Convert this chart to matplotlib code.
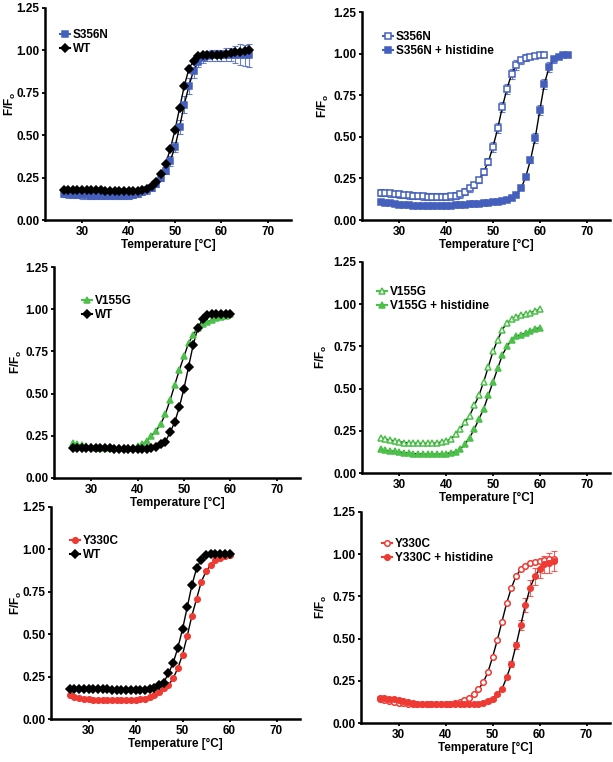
import matplotlib
matplotlib.use("Agg")
import matplotlib.pyplot as plt
import numpy as np

plt.rcParams['font.family'] = ['Liberation Sans', 'DejaVu Sans']
plt.rcParams['font.weight'] = 'bold'
plt.rcParams['mathtext.fontset'] = 'custom'
plt.rcParams['mathtext.rm'] = 'Liberation Sans:bold'
plt.rcParams['mathtext.default'] = 'rm'

BLUE = '#4560BC'
GREEN = '#4CC04A'
RED = '#EE3A33'

# temperatures (°C)
t_26_66 = list(range(26, 67))
t_26_61 = list(range(26, 62))
t_26_60 = list(range(26, 61))
t_26_63 = list(range(26, 64))

# WT, 26-66 (panel 1)
wt_long = [0.175, 0.175, 0.175, 0.175, 0.175, 0.175, 0.175, 0.175, 0.175, 0.173,
           0.172, 0.171, 0.170, 0.170, 0.170, 0.171, 0.173, 0.177, 0.185, 0.20,
           0.225, 0.27, 0.33, 0.42, 0.53, 0.66, 0.79, 0.89, 0.94, 0.965,
           0.97, 0.97, 0.97, 0.97, 0.975, 0.98, 0.985, 0.99, 0.993, 0.996, 1.00]
# S356N, 26-66
s356n = [0.155, 0.152, 0.150, 0.148, 0.146, 0.145, 0.144, 0.143, 0.142, 0.141,
         0.141, 0.141, 0.141, 0.142, 0.144, 0.148, 0.155, 0.165, 0.175, 0.19,
         0.215, 0.25, 0.29, 0.35, 0.43, 0.55, 0.68, 0.79, 0.88, 0.93,
         0.955, 0.965, 0.97, 0.97, 0.97, 0.975, 0.975, 0.975, 0.975, 0.97, 0.97]
s356n_err = [0.02, 0.02, 0.02, 0.02, 0.02, 0.02, 0.02, 0.02, 0.02, 0.02,
             0.02, 0.02, 0.02, 0.02, 0.02, 0.02, 0.02, 0.02, 0.02, 0.02,
             0.02, 0.02, 0.02, 0.03, 0.03, 0.04, 0.05, 0.05, 0.04, 0.03,
             0.03, 0.03, 0.03, 0.03, 0.03, 0.04, 0.04, 0.05, 0.06, 0.06, 0.07]

# panel 2: S356N (26-61) and S356N + histidine (26-66)
s356n_b = [0.165, 0.163, 0.160, 0.157, 0.154, 0.151, 0.148, 0.146, 0.144, 0.142,
           0.141, 0.140, 0.140, 0.140, 0.141, 0.143, 0.147, 0.155, 0.17, 0.19,
           0.21, 0.24, 0.29, 0.35, 0.44, 0.55, 0.68, 0.79, 0.88, 0.93,
           0.96, 0.975, 0.982, 0.987, 0.99, 0.99]
s356n_b_err = [0.02] * 22 + [0.02, 0.02, 0.03, 0.03, 0.03, 0.03, 0.03, 0.03,
                             0.02, 0.02, 0.01, 0.01, 0.01, 0.01]
s356n_his = [0.110, 0.105, 0.100, 0.096, 0.093, 0.090, 0.088, 0.087, 0.086, 0.085,
             0.085, 0.085, 0.085, 0.085, 0.086, 0.087, 0.088, 0.090, 0.092, 0.094,
             0.096, 0.098, 0.100, 0.103, 0.106, 0.110, 0.115, 0.122, 0.132, 0.15,
             0.19, 0.26, 0.36, 0.49, 0.66, 0.82, 0.92, 0.965, 0.98, 0.99, 0.99]
s356n_his_err = [0.01] * 31 + [0.01, 0.02, 0.03, 0.03, 0.03, 0.03, 0.02, 0.01, 0.01, 0.01]

# WT, 26-60 (panels 3 and 5)
wt = [0.175, 0.175, 0.175, 0.175, 0.175, 0.175, 0.175, 0.175, 0.175, 0.173,
      0.172, 0.171, 0.170, 0.170, 0.170, 0.171, 0.173, 0.177, 0.185, 0.20,
      0.215, 0.27, 0.33, 0.42, 0.53, 0.66, 0.79, 0.89, 0.94, 0.965,
      0.97, 0.97, 0.97, 0.97, 0.97]
# V155G, 26-60
v155g = [0.21, 0.20, 0.195, 0.19, 0.185, 0.18, 0.177, 0.175, 0.175, 0.175,
         0.175, 0.175, 0.175, 0.18, 0.19, 0.20, 0.22, 0.25, 0.28, 0.32,
         0.38, 0.46, 0.55, 0.64, 0.72, 0.80, 0.85, 0.89, 0.915, 0.925,
         0.935, 0.945, 0.955, 0.96, 0.97]
# panel 4
v155g_b = [0.21, 0.20, 0.195, 0.19, 0.185, 0.18, 0.178, 0.176, 0.175, 0.175,
           0.175, 0.175, 0.178, 0.183, 0.19, 0.20, 0.23, 0.26, 0.30, 0.34,
           0.40, 0.46, 0.54, 0.63, 0.72, 0.79, 0.85, 0.89, 0.91, 0.925,
           0.935, 0.94, 0.95, 0.96, 0.97]
v155g_his = [0.14, 0.135, 0.13, 0.128, 0.125, 0.12, 0.117, 0.115, 0.113, 0.112,
             0.111, 0.111, 0.111, 0.112, 0.115, 0.12, 0.125, 0.14, 0.17, 0.21,
             0.26, 0.32, 0.38, 0.46, 0.54, 0.62, 0.70, 0.75, 0.79, 0.81,
             0.82, 0.83, 0.84, 0.855, 0.86]

# Y330C, 26-60 (panel 5)
y330c = [0.14, 0.13, 0.125, 0.12, 0.115, 0.112, 0.11, 0.11, 0.11, 0.11,
         0.11, 0.11, 0.11, 0.11, 0.11, 0.115, 0.12, 0.13, 0.14, 0.16,
         0.18, 0.20, 0.24, 0.30, 0.38, 0.49, 0.61, 0.71, 0.81, 0.87,
         0.91, 0.935, 0.95, 0.96, 0.965]
# panel 6: Y330C (26-63) and Y330C + histidine (26-63)
y330c_b = [0.14, 0.135, 0.13, 0.125, 0.12, 0.117, 0.114, 0.112, 0.11, 0.11,
           0.11, 0.11, 0.11, 0.11, 0.11, 0.115, 0.12, 0.125, 0.135, 0.15,
           0.17, 0.20, 0.24, 0.30, 0.39, 0.49, 0.60, 0.71, 0.80, 0.87,
           0.91, 0.93, 0.945, 0.955, 0.96, 0.965, 0.97, 0.97]
y330c_his = [0.15, 0.15, 0.145, 0.14, 0.135, 0.13, 0.122, 0.117, 0.113, 0.11,
             0.11, 0.11, 0.11, 0.11, 0.11, 0.11, 0.11, 0.11, 0.11, 0.11,
             0.11, 0.115, 0.12, 0.13, 0.145, 0.17, 0.20, 0.27, 0.35, 0.46,
             0.58, 0.70, 0.80, 0.87, 0.91, 0.94, 0.95, 0.96]
y330c_his_err = [0.01] * 27 + [0.01, 0.02, 0.02, 0.03, 0.04, 0.05, 0.05, 0.05, 0.05, 0.06, 0.06]

W, H = 613, 762
FS = 8.5
fig = plt.figure(figsize=(W / 100, H / 100), dpi=100)

# axes boxes in pixels: left, top, width, bottom
boxes = [(45, 8, 246, 220), (362, 12, 248, 220),
         (54, 267, 246, 478), (362, 262, 248, 473),
         (51, 507, 249, 719), (361, 512, 249, 723)]
# y label offset left of spine (px), legend marker offset from spine and first row from top (px)
ylab_dx = [27, 31, 30, 33, 27, 32]
leg_pos = [(20, 28), (26, 26), (33, 35), (20, 31), (24, 35), (26, 33)]


def make_ax(i):
    l, t, w, b = boxes[i]
    ax = fig.add_axes([l / W, 1 - b / H, w / W, (b - t) / H])
    ax.patch.set_visible(False)
    ax.set_xlim(22, 75)
    ax.set_ylim(0, 1.25)
    ax.set_xticks([30, 40, 50, 60, 70])
    ax.set_yticks([0, 0.25, 0.5, 0.75, 1.0, 1.25])
    ax.set_yticklabels(['0.00', '0.25', '0.50', '0.75', '1.00', '1.25'])
    for s in ['top', 'right']:
        ax.spines[s].set_visible(False)
    for s in ['left', 'bottom']:
        ax.spines[s].set_linewidth(1.8)
    ax.tick_params(width=1.3, length=2.5, labelsize=FS, pad=1.5)
    for lab in ax.get_xticklabels() + ax.get_yticklabels():
        lab.set_fontweight('bold')
    ax.set_xlabel('Temperature [°C]', fontsize=FS, fontweight='bold', labelpad=1)
    ax.set_ylabel(r'F/F$_\mathrm{o}$', fontsize=FS, fontweight='bold')
    ax.yaxis.set_label_coords(-ylab_dx[i] / w, 0.55)
    return ax


def series(ax, x, y, marker, color, label, filled=True, err=None, ms=4.0):
    ax.plot(x, y, '-', color='black', lw=1.0, zorder=2)
    if err is not None:
        ax.errorbar(x, y, yerr=err, fmt='none', ecolor=color, elinewidth=0.8,
                    capsize=2.5, capthick=0.8, alpha=0.8, zorder=1)
    ax.plot(x, y, linestyle='none', marker=marker, ms=ms, mew=1.1,
            mec=color, mfc=color if filled else 'white', zorder=3)
    # legend handle with short line through the marker
    ax.plot([], [], '-', color=color, lw=1.5, marker=marker, ms=ms, mew=1.1,
            mec=color, mfc=color if filled else 'white', label=label)


def legend(ax, i):
    l, t, w, b = boxes[i]
    mx, ry = leg_pos[i]
    hl = 0.9
    half = hl * FS * 100 / 72 / 2
    x0 = (mx - half) / w
    y0 = 1 - (ry - 7) / (b - t)
    ax.legend(loc='upper left', bbox_to_anchor=(x0, y0), frameon=False,
              handlelength=hl, handletextpad=0.2, borderpad=0,
              labelspacing=0.2, borderaxespad=0,
              prop={'weight': 'bold', 'size': FS})


ax = make_ax(0)
series(ax, t_26_66, s356n, 's', BLUE, 'S356N', err=s356n_err)
series(ax, t_26_66, wt_long, 'D', 'black', 'WT', ms=3.6)
legend(ax, 0)

ax = make_ax(1)
series(ax, t_26_61, s356n_b, 's', BLUE, 'S356N', filled=False, err=s356n_b_err, ms=3.8)
series(ax, t_26_66, s356n_his, 's', BLUE, 'S356N + histidine', err=s356n_his_err, ms=3.8)
legend(ax, 1)

ax = make_ax(2)
series(ax, t_26_60, v155g, '^', GREEN, 'V155G', ms=4.5)
series(ax, t_26_60, wt, 'D', 'black', 'WT', ms=3.6)
legend(ax, 2)

ax = make_ax(3)
series(ax, t_26_60, v155g_b, '^', GREEN, 'V155G', filled=False, ms=4.5)
series(ax, t_26_60, v155g_his, '^', GREEN, 'V155G + histidine', ms=4.5)
legend(ax, 3)

ax = make_ax(4)
series(ax, t_26_60, y330c, 'o', RED, 'Y330C')
series(ax, t_26_60, wt, 'D', 'black', 'WT', ms=3.6)
legend(ax, 4)

ax = make_ax(5)
series(ax, t_26_63, y330c_b, 'o', RED, 'Y330C', filled=False)
series(ax, t_26_63, y330c_his, 'o', RED, 'Y330C + histidine', err=y330c_his_err)
legend(ax, 5)

fig.savefig('out.png', dpi=100)
